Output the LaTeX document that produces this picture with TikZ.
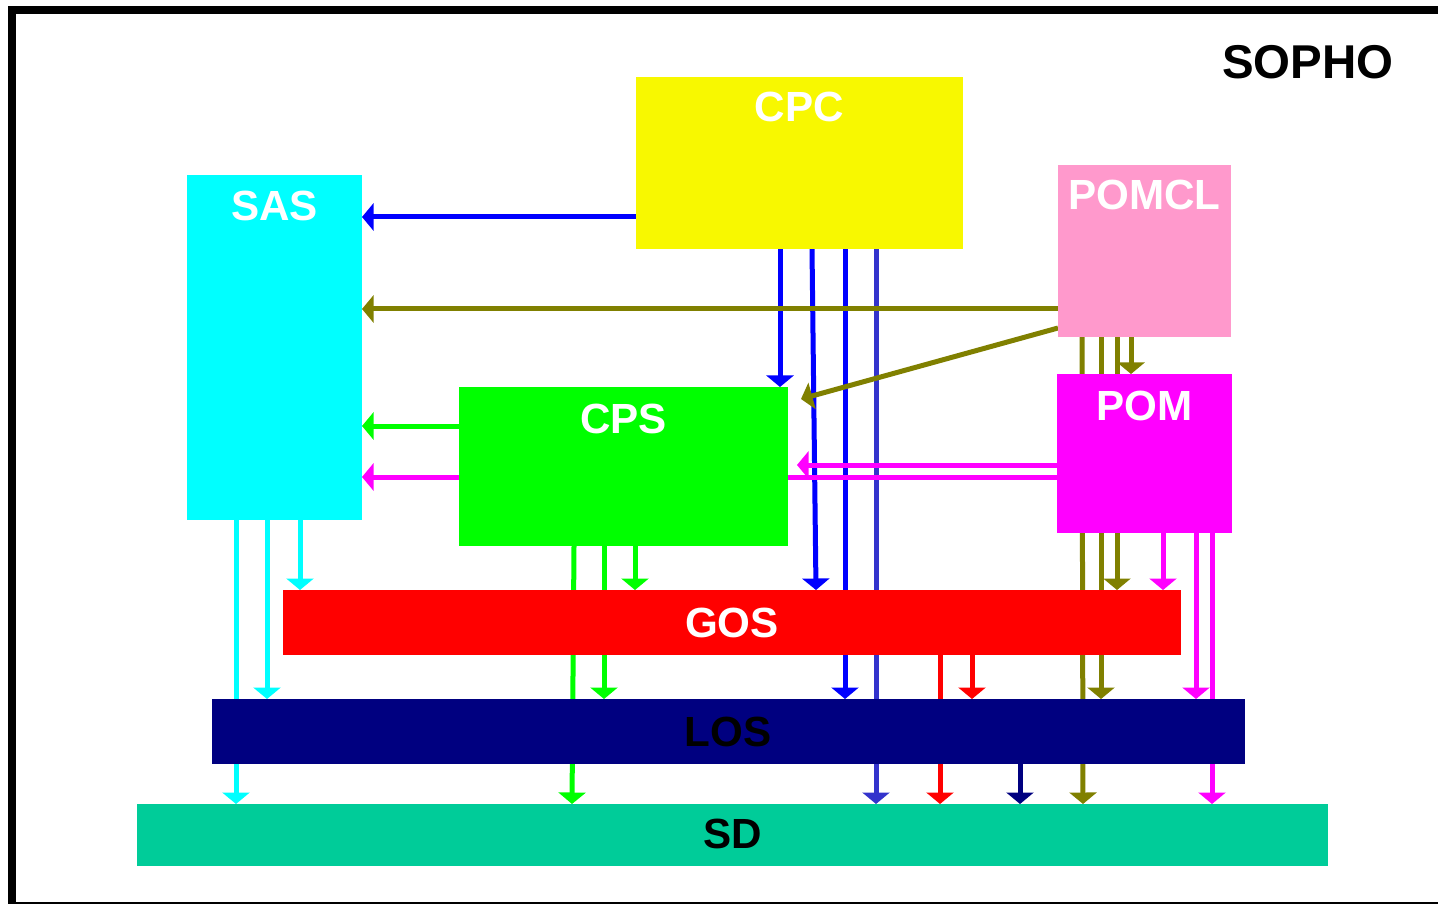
\documentclass[tikz,border=0pt]{standalone}
\usepackage{fontspec}
\setmainfont{Liberation Sans}
\usetikzlibrary{arrows.meta,backgrounds,positioning}

\definecolor{cpcY}{RGB}{248,248,0}
\definecolor{sasC}{RGB}{0,255,255}
\definecolor{pomclP}{RGB}{255,153,204}
\definecolor{pomM}{RGB}{255,0,255}
\definecolor{cpsG}{RGB}{0,255,0}
\definecolor{gosR}{RGB}{255,0,0}
\definecolor{losN}{RGB}{0,0,128}
\definecolor{sdT}{RGB}{0,204,153}
\definecolor{olv}{RGB}{128,128,0}
\definecolor{blu}{RGB}{0,0,255}
\definecolor{bluL}{RGB}{51,51,204}

\begin{document}
\begin{tikzpicture}[
  blk/.style={rectangle,inner sep=0pt,outer sep=0pt},
  lbl/.style={font=\fontsize{24}{28}\selectfont\bfseries,text=white,inner sep=0pt},
  wire/.style={line width=0.1cm},
  arr/.style={wire,-{Triangle[length=0.23cm,width=0.54cm]}}
]
  \path[use as bounding box,clip] (0,0) rectangle (28.76,-18.08);
  \draw[line width=0.16cm] (0.24,-0.2) rectangle (29.2,-18.12);
  \node[lbl,text=black,font=\fontsize{27}{30}\selectfont\bfseries] (title) at (26.16,-1.24) {SOPHO};

  % blocks
  \node[blk,fill=cpcY,minimum width=6.54cm,minimum height=3.44cm] (cpc) at (15.99,-3.26) {};
  \node[blk,fill=sasC,minimum width=3.5cm,minimum height=6.9cm] (sas) at (5.49,-6.95) {};
  \node[blk,fill=pomclP,minimum width=3.46cm,minimum height=3.44cm] (pomcl) at (22.89,-5.02) {};
  \node[blk,fill=pomM,minimum width=3.5cm,minimum height=3.18cm] (pom) at (22.89,-9.07) {};
  \node[blk,fill=cpsG,minimum width=6.58cm,minimum height=3.18cm] (cps) at (12.47,-9.33) {};
  \node[blk,fill=gosR,minimum width=17.96cm,minimum height=1.3cm] (gos) at (14.64,-12.45) {};
  \node[blk,fill=losN,minimum width=20.66cm,minimum height=1.3cm] (los) at (14.57,-14.63) {};
  \node[blk,fill=sdT,minimum width=23.82cm,minimum height=1.24cm] (sd) at (14.65,-16.70) {};

  \node[lbl] (cpcT) at ([yshift=-0.6cm]cpc.north) {CPC};
  \node[lbl] (sasT) at ([yshift=-0.62cm]sas.north) {SAS};
  \node[lbl] (pomclT) at ([yshift=-0.6cm]pomcl.north) {POMCL};
  \node[lbl] (pomT) at ([yshift=-0.64cm]pom.north) {POM};
  \node[lbl] (cpsT) at ([yshift=-0.64cm]cps.north) {CPS};
  \node[lbl] (gosT) at (gos.center) {GOS};
  \node[lbl,text=black] (losT) at ([xshift=-0.01cm]los.center) {LOS};
  \node[lbl,text=black] (sdT) at ([yshift=0.02cm]sd.center) {SD};

  \coordinate (cpsNE) at ([xshift=0.26cm,yshift=-0.24cm]cps.north east);
  \coordinate (cpsR) at ([xshift=0.18cm]cps.east);

  \begin{scope}[on background layer]
    % from CPC
    \draw[arr,blu] (cpc.west |- 0,-4.34) -- (sas.east |- 0,-4.34);
    \draw[arr,blu] (cpc.south -| 15.6,0) -- (cps.north -| 15.6,0);
    \draw[arr,blu] (cpc.south -| 16.24,0) -- (gos.north -| 16.32,0);
    \draw[arr,blu] (cpc.south -| 16.9,0) -- (los.north -| 16.9,0);
    \draw[arr,bluL] (cpc.south -| 17.52,0) -- (sd.north -| 17.52,0);
    % from SAS
    \draw[arr,sasC] (sas.south -| 4.72,0) -- (sd.north -| 4.72,0);
    \draw[arr,sasC] (sas.south -| 5.34,0) -- (los.north -| 5.34,0);
    \draw[arr,sasC] (sas.south -| 6.0,0) -- (gos.north -| 6.0,0);
    % from CPS
    \draw[arr,cpsG] (cps.west |- 0,-8.52) -- (sas.east |- 0,-8.52);
    \draw[arr,cpsG] (cps.south -| 11.48,0) -- (sd.north -| 11.44,0);
    \draw[arr,cpsG] (cps.south -| 12.08,0) -- (los.north -| 12.08,0);
    \draw[arr,cpsG] (cps.south -| 12.7,0) -- (gos.north -| 12.7,0);
    % from GOS and LOS
    \draw[arr,gosR] (gos.south -| 18.8,0) -- (sd.north -| 18.8,0);
    \draw[arr,gosR] (gos.south -| 19.44,0) -- (los.north -| 19.44,0);
    \draw[arr,losN] (los.south -| 20.4,0) -- (sd.north -| 20.4,0);
    % from POMCL
    \draw[arr,olv] (pomcl.west |- 0,-6.18) -- (sas.east |- 0,-6.18);
    \draw[arr,olv] (pomcl.west |- 0,-6.56) -- (cpsNE);
    \draw[arr,olv] (pomcl.south -| 21.64,0) -- (sd.north -| 21.66,0);
    \draw[arr,olv] (pomcl.south -| 22.02,0) -- (los.north -| 22.02,0);
    \draw[arr,olv] (pomcl.south -| 22.34,0) -- (gos.north -| 22.34,0);
    \draw[arr,olv] (pomcl.south -| 22.62,0) -- (pom.north -| 22.62,0);
    % from POM
    \draw[arr,pomM] (pom.west |- 0,-9.54) -- (sas.east |- 0,-9.54);
    \draw[arr,pomM] (pom.west |- 0,-9.3) -- (cpsR |- 0,-9.3);
    \draw[arr,pomM] (pom.south -| 23.26,0) -- (gos.north -| 23.26,0);
    \draw[arr,pomM] (pom.south -| 23.92,0) -- (los.north -| 23.92,0);
    \draw[arr,pomM] (pom.south -| 24.24,0) -- (sd.north -| 24.24,0);
  \end{scope}
\end{tikzpicture}
\end{document}
